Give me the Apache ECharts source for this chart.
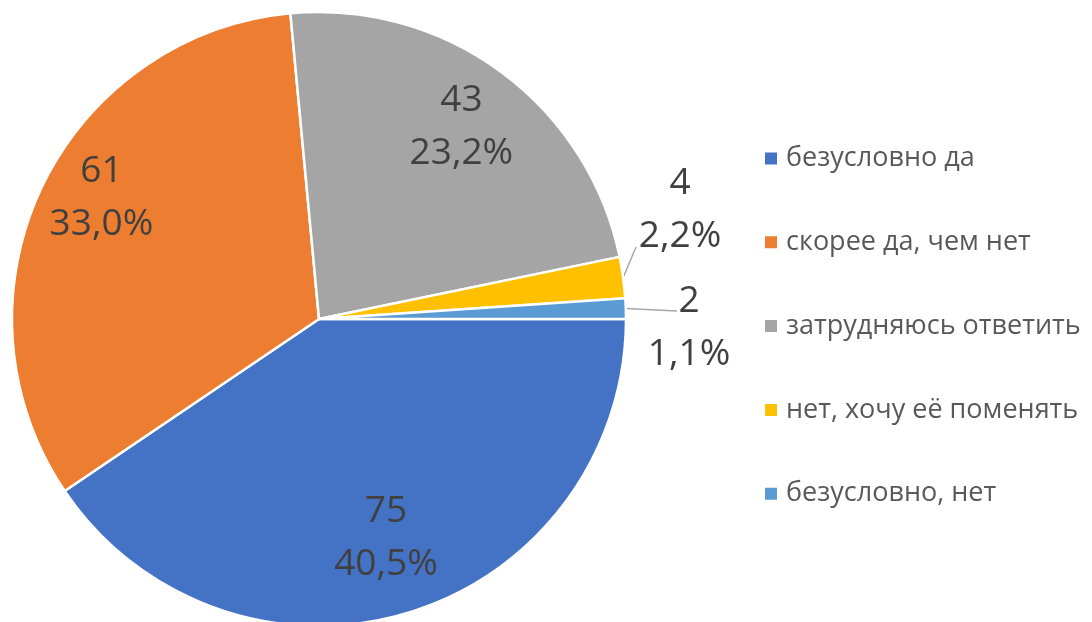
<!DOCTYPE html>
<html>
<head>
<meta charset="utf-8">
<script src="https://cdn.jsdelivr.net/npm/echarts@6/dist/echarts.min.js"></script>
<style>
  html, body { margin: 0; padding: 0; background: #fff; }
  #chart { width: 1092px; height: 622px; }
</style>
</head>
<body>
<div id="chart"></div>
<script>
var categories = ['безусловно да', 'скорее да, чем нет', 'затрудняюсь ответить', 'нет, хочу её поменять', 'безусловно, нет'];
var counts = [75, 61, 43, 4, 2];
var colors = ['#4472C4', '#ED7D31', '#A5A5A5', '#FFC000', '#5B9BD5'];

var cx = 319, cy = 319, R = 307;
var total = counts.reduce(function (a, b) { return a + b; }, 0);
// inner labels pushed out to this share of the radius (Excel style)
var innerFactor = [0.745, 0.82, 0.78];
var innerShift = [[0, 0], [10, -13], [0, 0]];
// outside labels: where the text block sits and where its leader line ends
var outerPos = { 3: [680, 210], 4: [689, 328] };
var outerLineEnd = { 3: [636, 247], 4: [677, 311] };

var pie_data = categories.map(function (name, i) {
    var item = { name: name, value: counts[i], itemStyle: { color: colors[i] } };
    if (i >= 3) {
        item.label = { position: 'outside', align: 'center' };
        item.labelLine = { show: true, length: 10, length2: 10 };
    }
    return item;
});

var chart = echarts.init(document.getElementById('chart'));
chart.setOption({
    animation: false,
    legend: {
        orient: 'vertical',
        left: 758,
        top: 140,
        icon: 'rect',
        itemWidth: 14,
        itemHeight: 14,
        itemGap: 56.8,
        textStyle: {
            fontFamily: 'Open Sans',
            fontSize: 27,
            lineHeight: 24,
            color: '#595959',
            padding: [0, 0, 0, 3]
        },
        data: categories
    },
    series: [{
        type: 'pie',
        center: [cx, cy],
        radius: [0, R],
        startAngle: 0,
        clockwise: true,
        silent: true,
        itemStyle: { borderColor: '#fff', borderWidth: 2.5 },
        label: {
            position: 'inside',
            fontFamily: 'Open Sans',
            fontSize: 37,
            lineHeight: 53,
            color: '#404040',
            formatter: function (p) {
                var pct = (p.value / total * 100).toFixed(1).replace('.', ',');
                return p.value + '\n' + pct + '%';
            }
        },
        labelLine: {
            lineStyle: { color: '#a6a6a6', width: 1.5 }
        },
        labelLayout: function (params) {
            var i = params.dataIndex;
            var r = params.labelRect;
            if (i < 3) {
                var lx = r.x + r.width / 2 - cx, ly = r.y + r.height / 2 - cy;
                var d = Math.sqrt(lx * lx + ly * ly);
                var f = innerFactor[i] * R / d - 1;
                return { dx: lx * f + innerShift[i][0], dy: ly * f + innerShift[i][1] };
            }
            var start = params.labelLinePoints ? params.labelLinePoints[0] : outerLineEnd[i];
            return {
                x: outerPos[i][0],
                y: outerPos[i][1],
                align: 'center',
                verticalAlign: 'middle',
                labelLinePoints: [start, outerLineEnd[i]]
            };
        },
        data: pie_data
    }]
});
</script>
</body>
</html>
